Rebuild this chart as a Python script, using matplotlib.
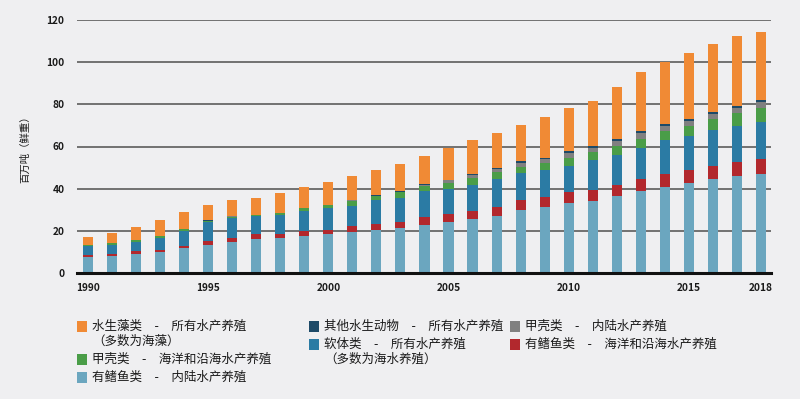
import matplotlib
matplotlib.use('Agg')
import matplotlib.pyplot as plt
from matplotlib.patches import Rectangle
import numpy as np

plt.rcParams['font.family'] = ['Noto Sans CJK SC', 'DejaVu Sans']

# data (million tonnes, live weight)
years = list(range(1990, 2019))
finfish_inland = [7.6, 7.9, 9.2, 10.0, 11.7, 13.1, 14.8, 16.1, 16.4, 17.7,
                  18.3, 19.3, 20.2, 21.2, 22.9, 24.0, 25.6, 27.2, 29.7, 31.1,
                  33.2, 34.0, 36.7, 39.1, 40.9, 42.5, 44.7, 45.8, 47.1]
finfish_marine = [1.1, 1.3, 1.1, 1.1, 1.2, 1.9, 1.8, 2.2, 2.2, 2.2,
                  2.2, 2.9, 3.2, 2.8, 3.5, 4.0, 4.0, 4.1, 4.7, 5.0,
                  5.0, 5.2, 5.2, 5.6, 6.2, 6.5, 6.2, 6.7, 7.0]
molluscs = [4.1, 4.1, 4.2, 5.3, 7.2, 9.0, 9.3, 8.6, 9.1, 9.7,
            10.3, 9.8, 11.4, 11.6, 12.3, 11.8, 12.3, 13.3, 13.0, 12.6,
            12.7, 14.5, 14.2, 14.6, 15.8, 15.8, 16.7, 17.4, 17.3]
crust_marine = [0.5, 0.7, 1.0, 1.0, 0.6, 0.8, 0.8, 0.5, 0.6, 1.0,
                1.3, 2.2, 1.7, 2.8, 2.4, 2.9, 3.2, 3.1, 2.9, 3.5,
                3.7, 3.5, 4.3, 4.4, 4.3, 4.7, 5.5, 6.0, 6.9]
crust_inland = [0.05, 0.1, 0.15, 0.2, 0.15, 0.1, 0.1, 0.1, 0.1, 0.1,
                0.2, 0.2, 0.2, 0.2, 0.6, 1.2, 1.6, 1.7, 2.1, 1.9,
                2.4, 1.9, 2.2, 2.5, 2.5, 2.6, 2.5, 2.5, 3.0]
other_animals = [0.05, 0.1, 0.15, 0.1, 0.1, 0.1, 0.1, 0.1, 0.1, 0.1,
                 0.1, 0.1, 0.1, 0.1, 0.3, 0.4, 0.4, 0.4, 0.5, 0.5,
                 0.7, 1.0, 1.0, 1.0, 1.0, 1.0, 0.9, 1.0, 0.9]
algae = [3.7, 4.6, 6.0, 7.6, 7.9, 7.3, 7.9, 8.1, 9.4, 10.1,
         10.8, 11.3, 11.9, 13.0, 13.6, 14.9, 15.8, 16.6, 17.4, 19.2,
         20.4, 21.5, 24.5, 28.0, 29.2, 31.3, 32.1, 33.2, 32.2]

xtick_years = [1990, 1995, 2000, 2005, 2010, 2015, 2018]

# stacking order, bottom to top
stack = [finfish_inland, finfish_marine, molluscs, crust_marine,
         crust_inland, other_animals, algae]
colors = ['#6ba6bf', '#b2282d', '#2b7ba4', '#4a9d48',
          '#808080', '#1d4a68', '#f08a35']

bg = '#efeff1'
W, H = 800, 399

fig = plt.figure(figsize=(W / 100, H / 100), dpi=100, facecolor=bg)
ax = fig.add_axes([77 / W, 1 - 273 / H, 694 / W, 253 / H])
ax.set_facecolor(bg)

bottom = np.zeros(len(years))
for vals, col in zip(stack, colors):
    vals = np.array(vals)
    ax.bar(years, vals, width=0.42, bottom=bottom, color=col,
           linewidth=0, zorder=3)
    bottom += vals

ax.set_xlim(1989.54, 2018.42)
ax.set_ylim(0, 120)
ax.set_yticks(range(0, 121, 20))
ax.set_xticks(xtick_years)
ax.yaxis.grid(True, color='#5c5c5c', lw=1.2, zorder=0)
ax.axhline(0, color='#111111', lw=2.2, zorder=4, clip_on=False)
for s in ax.spines.values():
    s.set_visible(False)
ax.tick_params(length=0, labelsize=7.3, colors='#1a1a1a')
ax.tick_params(axis='y', pad=9)
ax.tick_params(axis='x', pad=7)
for t in ax.get_xticklabels() + ax.get_yticklabels():
    t.set_fontweight('semibold')

fig.text(25 / W, 1 - 147 / H, '百万吨（鲜重）', rotation=90,
         ha='center', va='center', fontsize=7.5, color='#1a1a1a',
         fontweight='medium')

# legend, laid out like the original (three columns)
sep = '\u3000-\u3000'
legend_items = [
    ('水生藻类' + sep + '所有水产养殖\n（多数为海藻）', '#f08a35', 77, 326),
    ('甲壳类' + sep + '海洋和沿海水产养殖', '#4a9d48', 77, 359),
    ('有鳍鱼类' + sep + '内陆水产养殖', '#6ba6bf', 77, 377.5),
    ('其他水生动物' + sep + '所有水产养殖', '#1d4a68', 309, 326),
    ('软体类' + sep + '所有水产养殖\n（多数为海水养殖）', '#2b7ba4', 309, 344),
    ('甲壳类' + sep + '内陆水产养殖', '#808080', 510, 326),
    ('有鳍鱼类' + sep + '海洋和沿海水产养殖', '#b2282d', 510, 344),
]
for label, col, px, py in legend_items:
    fig.add_artist(Rectangle((px / W, 1 - (py + 5.5) / H), 10 / W, 11 / H,
                             transform=fig.transFigure, color=col, lw=0))
    for i, line in enumerate(label.split('\n')):
        fig.text((px + 15) / W, 1 - (py + 15 * i) / H, line,
                 ha='left', va='center', fontsize=9, color='#1a1a1a',
                 fontweight='medium')

fig.savefig('out.png', dpi=100, facecolor=bg)
